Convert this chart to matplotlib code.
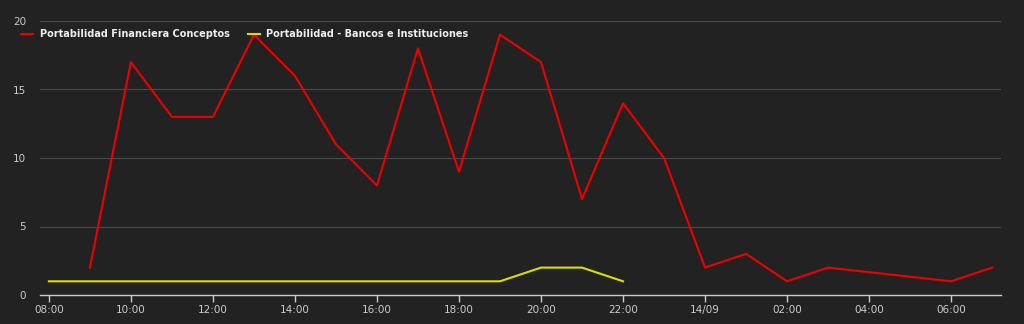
import pandas as pd
import matplotlib
matplotlib.use("Agg")
import matplotlib.pyplot as plt

# ---- data ----
red_times = ["2023-09-13 09:00", "2023-09-13 10:00", "2023-09-13 11:00", "2023-09-13 12:00",
             "2023-09-13 13:00", "2023-09-13 14:00", "2023-09-13 15:00", "2023-09-13 16:00",
             "2023-09-13 17:00", "2023-09-13 18:00", "2023-09-13 19:00", "2023-09-13 20:00",
             "2023-09-13 21:00", "2023-09-13 22:00", "2023-09-13 23:00", "2023-09-14 00:00",
             "2023-09-14 01:00", "2023-09-14 02:00", "2023-09-14 03:00", "2023-09-14 06:00",
             "2023-09-14 07:00"]
red_values = [2, 17, 13, 13, 19, 16, 11, 8, 18, 9, 19, 17, 7, 14, 10, 2, 3, 1, 2, 1, 2]

yellow_times = ["2023-09-13 08:00", "2023-09-13 09:00", "2023-09-13 10:00", "2023-09-13 11:00",
                "2023-09-13 12:00", "2023-09-13 13:00", "2023-09-13 14:00", "2023-09-13 15:00",
                "2023-09-13 16:00", "2023-09-13 17:00", "2023-09-13 18:00", "2023-09-13 19:00",
                "2023-09-13 20:00", "2023-09-13 21:00", "2023-09-13 22:00"]
yellow_values = [1, 1, 1, 1, 1, 1, 1, 1, 1, 1, 1, 1, 2, 2, 1]

tick_times = ["2023-09-13 08:00", "2023-09-13 10:00", "2023-09-13 12:00", "2023-09-13 14:00",
              "2023-09-13 16:00", "2023-09-13 18:00", "2023-09-13 20:00", "2023-09-13 22:00",
              "2023-09-14 00:00", "2023-09-14 02:00", "2023-09-14 04:00", "2023-09-14 06:00"]
tick_labels = ["08:00", "10:00", "12:00", "14:00", "16:00", "18:00", "20:00", "22:00",
               "14/09", "02:00", "04:00", "06:00"]

red_name = "Portabilidad Financiera Conceptos"
yellow_name = "Portabilidad - Bancos e Instituciones"

bg = "#222222"

fig = plt.figure(figsize=(10.24, 3.24), dpi=100, facecolor=bg)
ax = fig.add_axes([40 / 1024, 1 - 295 / 324, 961 / 1024, 274 / 324], facecolor=bg)

ax.plot(pd.to_datetime(red_times), red_values, color="#ee0000", lw=1.5, label=red_name)
ax.plot(pd.to_datetime(yellow_times), yellow_values, color="#dddd00", lw=1.5, label=yellow_name)

start = pd.Timestamp("2023-09-13 08:00") - pd.Timedelta(minutes=13)
end = pd.Timestamp("2023-09-14 07:00") + pd.Timedelta(minutes=13)
ax.set_xlim(start, end)
ax.set_ylim(0, 20)

ax.set_xticks(pd.to_datetime(tick_times))
ax.set_xticklabels(tick_labels)
ax.set_yticks([0, 5, 10, 15, 20])
ax.tick_params(axis="x", colors="#cccccc", labelsize=7.5, length=5, width=1, pad=2)
ax.tick_params(axis="y", colors="#cccccc", labelsize=7.5, length=0, pad=10)

ax.grid(axis="y", color="#4a4a4a", lw=0.8)
ax.set_axisbelow(True)
for s in ["top", "right", "left"]:
    ax.spines[s].set_visible(False)
ax.spines["bottom"].set_color("#cccccc")
ax.spines["bottom"].set_linewidth(1)

fig.legend(loc="upper left", bbox_to_anchor=(0.012, 0.937), ncol=2, frameon=False,
           prop={"weight": "bold", "size": 7}, labelcolor="#eeeeee",
           handlelength=1.2, handletextpad=0.7, columnspacing=1.9)

fig.savefig("out.png", dpi=100, facecolor=bg)
